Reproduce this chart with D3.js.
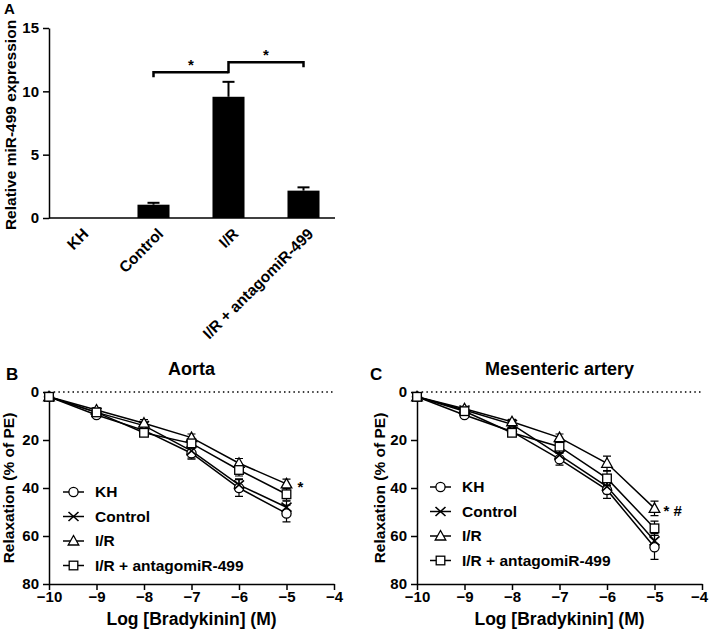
<!DOCTYPE html>
<html>
<head>
<meta charset="utf-8">
<script src="https://cdn.jsdelivr.net/npm/d3@7"></script>
<style>
  body { margin: 0; background: #fff; }
  svg { font-family: "Liberation Sans", Arial, sans-serif; font-weight: bold; }
  .axis path, .axis line { stroke: #000; stroke-width: 1.5; }
  .axis text { font-size: 15px; font-weight: bold; fill: #000; }
</style>
</head>
<body>
<script>
//
// DATA
//
// panel A: miR-499 expression
const groupsA = ['KH', 'Control', 'I/R', 'I/R + antagomiR-499']
const meanA = [0, 1.05, 9.57, 2.16]
const semA = [0, 0.15, 1.18, 0.26]
const yTicksA = [0, 5, 10, 15]

// panels B / C: relaxation curves
const doses = [-10, -9, -8, -7, -6, -5]
const seriesNames = ['KH', 'Control', 'I/R', 'I/R + antagomiR-499']
const seriesSymbols = ['circle', 'cross', 'triangle', 'square']
const xTicks = [-10, -9, -8, -7, -6, -5, -4]
const yTicks = [0, 20, 40, 60, 80]

const aortaKH = [2, 9.6, 16, 25.5, 40, 50.6]
const aortaControl = [2, 8.5, 14, 24.5, 38.7, 48]
const aortaIR = [2, 7.5, 13, 19, 29.7, 38.3]
const aortaAntago = [2, 8.5, 17, 21.4, 32.5, 42.6]
const aortaKHErr = [1, 1, 1.5, 2.5, 3.5, 3.5]
const aortaControlErr = [1, 1, 1.5, 3, 2.5, 2.5]
const aortaIRErr = [1, 1, 1.5, 1.5, 2, 2]
const aortaAntagoErr = [1, 1, 1.5, 2, 2.5, 2.5]

const mesKH = [2, 9.6, 16.5, 28, 40.8, 64.7]
const mesControl = [2, 7.5, 13.5, 26.3, 39.4, 62]
const mesIR = [2, 7, 12.4, 19, 29.7, 48.5]
const mesAntago = [2, 8, 17, 22.8, 36, 56.8]
const mesKHErr = [1, 1, 1.5, 2.5, 3.5, 5]
const mesControlErr = [1, 1, 1.5, 2.5, 3, 3]
const mesIRErr = [1, 1, 1, 1.5, 3, 3]
const mesAntagoErr = [1, 1, 1.5, 2.5, 3, 3]

const svg = d3.select('body').append('svg').attr('width', 709).attr('height', 630)

//
// PANEL A
//
const plotBars = () => {
    const g = svg.append('g')
    const y = d3.scaleLinear().domain([0, 15]).range([218, 28])
    const x = d3.scaleBand().domain(groupsA).range([41, 341]).paddingInner(0.573).paddingOuter(0.2865)

    // y axis
    g.append('g').attr('class', 'axis').attr('transform', 'translate(49,0)')
        .call(d3.axisLeft(y).tickValues(yTicksA).tickSize(6).tickSizeOuter(0).tickPadding(4))
    // x axis line, no ticks
    g.append('line').attr('x1', 49).attr('x2', 335).attr('y1', y(0)).attr('y2', y(0))
        .attr('stroke', '#000').attr('stroke-width', 1.5)

    // bars with upward error bars
    groupsA.forEach((k, i) => {
        if (meanA[i] <= 0) return
        const cx = x(k) + x.bandwidth() / 2
        g.append('line').attr('x1', cx).attr('x2', cx).attr('y1', y(meanA[i])).attr('y2', y(meanA[i] + semA[i]))
            .attr('stroke', '#000').attr('stroke-width', 2)
        g.append('line').attr('x1', cx - 6).attr('x2', cx + 6)
            .attr('y1', y(meanA[i] + semA[i])).attr('y2', y(meanA[i] + semA[i]))
            .attr('stroke', '#000').attr('stroke-width', 2)
        g.append('rect').attr('x', x(k)).attr('width', x.bandwidth())
            .attr('y', y(meanA[i])).attr('height', y(0) - y(meanA[i])).attr('fill', '#000')
    })

    // category labels, rotated
    groupsA.forEach(k => {
        const cx = x(k) + x.bandwidth() / 2
        g.append('text').attr('transform', `translate(${cx + 7},${y(0) + 13}) rotate(-45)`)
            .attr('text-anchor', 'end').attr('dy', '0.35em')
            .style('font-size', '15.5px').text(k)
    })

    // significance brackets
    const c = i => x(groupsA[i]) + x.bandwidth() / 2
    const br = (i0, i1, yv, drop0, drop1) => {
        g.append('path')
            .attr('d', `M${c(i0)},${y(yv) + drop0}V${y(yv)}H${c(i1)}V${y(yv) + drop1}`)
            .attr('fill', 'none').attr('stroke', '#000').attr('stroke-width', 2.5)
        g.append('text').attr('x', (c(i0) + c(i1)) / 2).attr('y', y(yv) - 2)
            .attr('text-anchor', 'middle').style('font-size', '15px').text('*')
    }
    br(1, 2, 11.5, 5, 0)
    br(2, 3, 12.3, 11, 5)

    // axis title and panel letter
    g.append('text').attr('transform', 'translate(16,125) rotate(-90)').attr('text-anchor', 'middle')
        .style('font-size', '15.5px').text('Relative miR-499 expression')
    g.append('text').attr('x', 4).attr('y', 14).style('font-size', '15px').text('A')
}

//
// PANELS B and C
//
const symbolPath = (sel, kind, cx, cy) => {
    const common = s => s.attr('fill', '#fff').attr('stroke', '#000').attr('stroke-width', 1.3)
    if (kind === 'circle') {
        common(sel.append('circle').attr('cx', cx).attr('cy', cy).attr('r', 4.6))
    } else if (kind === 'square') {
        common(sel.append('rect').attr('x', cx - 4.3).attr('y', cy - 4.3).attr('width', 8.6).attr('height', 8.6))
    } else if (kind === 'triangle') {
        common(sel.append('path').attr('d', `M${cx},${cy - 5.5}L${cx + 5.3},${cy + 4}L${cx - 5.3},${cy + 4}Z`))
    } else {
        sel.append('path').attr('d', `M${cx - 5},${cy - 4.5}L${cx + 5},${cy + 4.5}M${cx + 5},${cy - 4.5}L${cx - 5},${cy + 4.5}`)
            .attr('stroke', '#000').attr('stroke-width', 1.6)
    }
}

const plotCurves = (opts) => {
    const g = svg.append('g')
    const x = d3.scaleLinear().domain([-10, -4]).range([opts.x0, opts.x1])
    const y = d3.scaleLinear().domain([0, 80]).range([392, 584])
    const minus = v => String(v).replace('-', '\u2212')

    // dotted zero line
    g.append('line').attr('x1', x(-10)).attr('x2', x(-4)).attr('y1', y(0)).attr('y2', y(0))
        .attr('stroke', '#000').attr('stroke-width', 1.5).attr('stroke-dasharray', '1.5,3.2')

    g.append('g').attr('class', 'axis').attr('transform', `translate(${x(-10)},0)`)
        .call(d3.axisLeft(y).tickValues(yTicks).tickSize(6).tickSizeOuter(0).tickPadding(4))
    const xa = g.append('g').attr('class', 'axis').attr('transform', `translate(0,${y(80)})`)
        .call(d3.axisBottom(x).tickValues(xTicks).tickFormat(minus).tickSize(6).tickSizeOuter(0).tickPadding(1))
    // keep the last label inside the page
    if (opts.lastShift) xa.selectAll('.tick:last-of-type text').attr('dx', opts.lastShift)

    const line = d3.line().x((d, i) => x(doses[i])).y(d => y(d))

    // lines first, then error bars and symbols
    opts.series.forEach(s => {
        g.append('path').datum(s.values).attr('d', line)
            .attr('fill', 'none').attr('stroke', '#000').attr('stroke-width', 1.5)
    })
    opts.series.forEach(s => {
        s.values.forEach((v, i) => {
            const cx = x(doses[i])
            const lo = y(v - s.err[i]), hi = y(v + s.err[i])
            g.append('path').attr('d', `M${cx},${lo}V${hi}M${cx - 4},${lo}H${cx + 4}M${cx - 4},${hi}H${cx + 4}`)
                .attr('stroke', '#000').attr('stroke-width', 1.2).attr('fill', 'none')
        })
    })
    opts.series.forEach((s, si) => {
        s.values.forEach((v, i) => symbolPath(g, seriesSymbols[si], x(doses[i]), y(v)))
    })

    // legend
    seriesNames.forEach((n, i) => {
        const ly = opts.legY + i * opts.legStep
        g.append('line').attr('x1', opts.legX).attr('x2', opts.legX + 21).attr('y1', ly).attr('y2', ly)
            .attr('stroke', '#000').attr('stroke-width', 1.5)
        symbolPath(g, seriesSymbols[i], opts.legX + 10.5, ly)
        g.append('text').attr('x', opts.legX + opts.textOff).attr('y', ly).attr('dy', '0.35em')
            .style('font-size', '15.5px').text(n)
    })

    // significance marks
    g.append('text').attr('x', x(-5) + opts.markOff).attr('y', opts.markY).style('font-size', '15px').text(opts.mark)

    // titles
    g.append('text').attr('x', x(-7)).attr('y', 375).attr('text-anchor', 'middle')
        .style('font-size', '18px').text(opts.title)
    g.append('text').attr('x', (x(-10) + x(-4)) / 2).attr('y', 625).attr('text-anchor', 'middle')
        .style('font-size', '17.5px').text('Log [Bradykinin] (M)')
    g.append('text').attr('transform', `translate(${opts.yTitleX},488) rotate(-90)`).attr('text-anchor', 'middle')
        .style('font-size', '15.5px').text('Relaxation (% of PE)')
    g.append('text').attr('x', opts.letterX).attr('y', 380).style('font-size', '17px').text(opts.letter)
}

plotBars()

plotCurves({
    x0: 49, x1: 334, title: 'Aorta', letter: 'B', letterX: 6, yTitleX: 14,
    legX: 63, legY: 492, legStep: 24.5, textOff: 32,
    mark: '*', markOff: 11, markY: 492,
    series: [
        { values: aortaKH, err: aortaKHErr },
        { values: aortaControl, err: aortaControlErr },
        { values: aortaIR, err: aortaIRErr },
        { values: aortaAntago, err: aortaAntagoErr },
    ],
})

plotCurves({
    x0: 417, x1: 702, title: 'Mesenteric artery', letter: 'C', letterX: 370, yTitleX: 385,
    legX: 430, legY: 487, legStep: 24.5, textOff: 32,
    mark: '* #', markOff: 9, markY: 516, lastShift: -3,
    series: [
        { values: mesKH, err: mesKHErr },
        { values: mesControl, err: mesControlErr },
        { values: mesIR, err: mesIRErr },
        { values: mesAntago, err: mesAntagoErr },
    ],
})
</script>
</body>
</html>
